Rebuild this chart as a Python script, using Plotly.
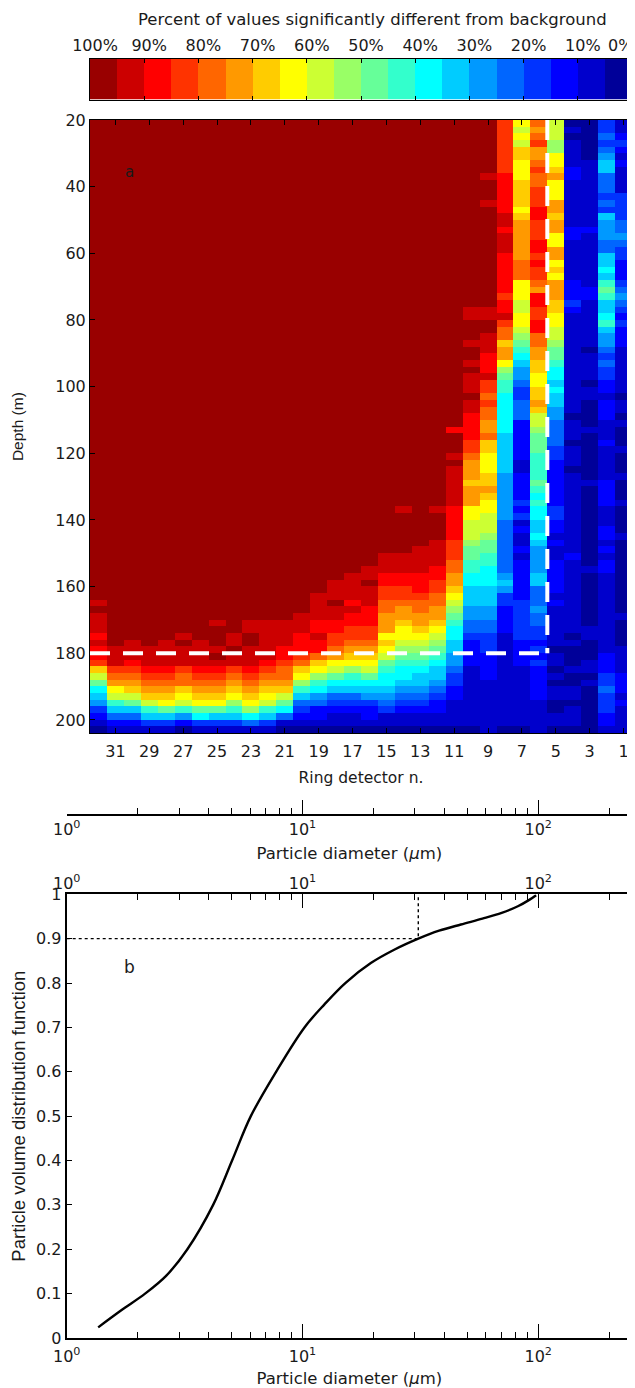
import math
import plotly.graph_objects as go

FONT = "DejaVu Sans, Verdana, sans-serif"
VFONT = "Liberation Sans, Arial, Helvetica, sans-serif"
INK = "#1a1a1a"
# the page keeps an 8 px body margin, so the figure is drawn 8 px in from the window corner
PAGE_OFFSET = 8
W, H = 627, 1380

# ---- colour classes (5 % wide), index 0 = 0-5 % ... index 19 = 95-100 %
jet20 = [
    "rgb(0,0,153)", "rgb(0,0,204)", "rgb(0,0,255)", "rgb(0,51,255)", "rgb(0,102,255)",
    "rgb(0,153,255)", "rgb(0,204,255)", "rgb(0,255,255)", "rgb(51,255,204)", "rgb(102,255,153)",
    "rgb(153,255,102)", "rgb(204,255,51)", "rgb(255,255,0)", "rgb(255,204,0)", "rgb(255,153,0)",
    "rgb(255,102,0)", "rgb(255,51,0)", "rgb(255,0,0)", "rgb(204,0,0)", "rgb(153,0,0)",
]
class_percent = [2.5, 7.5, 12.5, 17.5, 22.5, 27.5, 32.5, 37.5, 42.5, 47.5,
                 52.5, 57.5, 62.5, 67.5, 72.5, 77.5, 82.5, 87.5, 92.5, 97.5]
LEVELS = "0123456789abcdefghij"

percent_ticks = [100, 90, 80, 70, 60, 50, 40, 30, 20, 10, 0]
percent_labels = ["100%", "90%", "80%", "70%", "60%", "50%", "40%", "30%", "20%", "10%", ""]
ring_ticks = [31, 29, 27, 25, 23, 21, 19, 17, 15, 13, 11, 9, 7, 5, 3, 1]
depth_ticks = [20, 40, 60, 80, 100, 120, 140, 160, 180, 200]
diam_ticks = [1, 10, 100]
diam_labels = ["10<sup>0</sup>", "10<sup>1</sup>", "10<sup>2</sup>"]
diam_minor = [2, 3, 4, 5, 6, 7, 8, 9, 20, 30, 40, 50, 60, 70, 80, 90, 200]
cdf_ticks = [0, 0.1, 0.2, 0.3, 0.4, 0.5, 0.6, 0.7, 0.8, 0.9, 1]

# depth bins of 2 m (centres), ring detectors 32 (left) ... 1 (right)
depths = list(range(21, 204, 2))
rings = list(range(32, 0, -1))

# class per depth bin, one string per ring (32 -> 1), groups of 10 bins = 20 m
J = "jjjjjjjjjj "
ring_columns = [
    J * 7 + "jjijiiihih hgdb976532 10",
    J * 7 + "jjjjjjjjji iigfecb864 21",
    J * 7 + "jjjjjjjjii ihgfedb964 21",
    J * 7 + "jjjjjjjjji iihgfedb86 31",
    J * 7 + "jjjjjjjjii iihgfedc96 31",
    J * 7 + "jjjjjjjiji iigffdcb85 20",
    J * 7 + "jjjjjjjjii iihgfedc97 31",
    J * 7 + "jjjjjijjji jihgfedc96 31",
    J * 7 + "jjjjjjjiij iigfedca86 31",
    J * 7 + "jjjjjiijji iihgfedca7 41",
    J * 7 + "jjjjjiiiii ihgfedcb86 31",
    J * 7 + "jjjjjiiiih hgffedb974 10",
    J * 7 + "jjjjiiihhh gfdca86432 10",
    J * 7 + "jiiiihhihh fdca875422 10",
    J * 6 + "jjjjjjjjji iijiihhggf ecb9764321 10",
    J * 6 + "jjjjjjjjii iihihhggfe dca8764321 10",
    J * 6 + "jjjjjjjiij iiihhhggfe dcb9765322 10",
    J * 6 + "jjjjjiiihh ggffeeecdc b987765431 10",
    J * 5 + "jjjjjjjjij jjjjjiiihh ggfeedccba 9877654321 10",
    J * 6 + "jjjjiiiihh hgffeedcba 9876654321 10",
    J * 5 + "jjjjjjjjij jjjiiiihhg gffeedcba9 8766543221 10",
    J * 4 + "jjjjjjhjjj ijiiiiiihh hhhgggffee dcba987766 5543322111 10",
    J * 2 + "jjjjjjjjii jjjijjijii ijiihhhhgg feeedeeecc bbba998877 6665544322 2211111111 10",
    "jjjjjjjjij jjijjjjjjj jjjjjjjjii jjiiihhhig gfgffeefdd cccddedccb bba9988777 6665544333 2222111111 11",
    "gggggggghh hhhhiihiii hhhhhhghhi gffdeeca98 8777777666 6665555555 4444444456 5332222111 1111111111 10",
    "cbcbddcccd dddcdeeeee efffcccbbc cba9876554 3344422222 2112222323 1211212222 2233333322 2211111111 10",
    "fefgeefgff ggghhggghh ghggfehhgg hhffeeddcc ddedbba999 8888987877 6676555566 4445443323 2322222111 11",
    "bbbaaccdec cceedeecce ecdceeeddc cbba998776 7665544443 3222222233 2212112222 2121111110 1101011001 10",
    "0101111221 1111112211 1111222321 1111111111 1111011101 1101111111 1111121111 1111111010 0010011011 10",
    "0000001111 1111112111 1111122111 1111011110 1100001000 0000100000 0000000100 0000001100 0110100000 00",
    "3343456644 4343655544 6676898667 8655434332 2122211121 1111222211 1221212211 1111111111 2223343332 21",
    "1123212111 1333344543 3222345432 3222111111 1011010001 0001000100 0010000000 0000100001 1112221211 11",
]

# cumulative particle volume distribution (panel b)
diameter_um = [1.36, 1.71, 2.15, 2.64, 3.25, 4.18, 5.03, 6.04, 7.73, 10.2, 12.4, 15.2, 19.5,
               24.5, 31.0, 38.0, 47.0, 58.0, 70.0, 82.0, 92.0, 98.0]
volume_cdf = [0.024, 0.063, 0.100, 0.140, 0.200, 0.300, 0.400, 0.500, 0.600, 0.700, 0.752,
              0.800, 0.845, 0.875, 0.900, 0.918, 0.932, 0.945, 0.958, 0.973, 0.988, 0.998]
d90_diameter = 31.0
d90_level = 0.9
limit_depth = 180
limit_ring = 5.5

cols = [c.replace(" ", "") for c in ring_columns]
for c in cols:
    assert len(c) == len(depths), len(c)
z = [[class_percent[LEVELS.index(col[i])] for col in cols] for i in range(len(depths))]

colorscale = []
for k, colr in enumerate(jet20):
    colorscale.append([k / 20, colr])
    colorscale.append([(k + 1) / 20, colr])


def px_x(x):
    # window pixel -> paper fraction
    return (x - PAGE_OFFSET) / W


def px_y(y):
    return 1 - (y - PAGE_OFFSET) / H


LOGMAX = math.log10(250)
tickfont = dict(family=FONT, size=16, color=INK)
titlefont = dict(family=FONT, size=15.5, color=INK)
bigtitle = dict(family=FONT, size=16.5, color=INK)

fig = go.Figure()

# panel a heat map
fig.add_trace(go.Heatmap(x=rings, y=depths, z=z, colorscale=colorscale, zmin=0, zmax=100,
                         showscale=False, xaxis="x", yaxis="y", hoverinfo="skip"))

# colour bar drawn as its own strip
fig.add_trace(go.Heatmap(x=class_percent, y=[0], z=[class_percent], colorscale=colorscale,
                         zmin=0, zmax=100, showscale=False, xaxis="x4", yaxis="y4", hoverinfo="skip"))

# stand-alone diameter axis under panel a
fig.add_trace(go.Scatter(x=[1, 250], y=[0, 0], mode="markers", marker=dict(opacity=0),
                         xaxis="x3", yaxis="y3", hoverinfo="skip", showlegend=False))

# panel b
fig.add_trace(go.Scatter(x=[1, d90_diameter, d90_diameter], y=[d90_level, d90_level, 1],
                         mode="lines", line=dict(color="black", width=1.4, dash="dot"),
                         xaxis="x2", yaxis="y2", showlegend=False, hoverinfo="skip"))
fig.add_trace(go.Scatter(x=diameter_um, y=volume_cdf, mode="lines",
                         line=dict(color="black", width=2.4, shape="spline", smoothing=1.0),
                         xaxis="x2", yaxis="y2", showlegend=False))
fig.add_trace(go.Scatter(x=[1, 250], y=[0, 0], mode="markers", marker=dict(opacity=0),
                         xaxis="x5", yaxis="y2", hoverinfo="skip", showlegend=False))

# white dashed limits
dash = "20px,13px"
fig.add_shape(type="line", xref="x", yref="y", x0=32.5, x1=limit_ring, y0=limit_depth, y1=limit_depth,
              line=dict(color="white", width=4, dash=dash))
fig.add_shape(type="line", xref="x", yref="y", x0=limit_ring, x1=limit_ring, y0=20, y1=limit_depth,
              line=dict(color="white", width=4, dash=dash))

heat_x = [px_x(90), px_x(632)]
diam_x = [px_x(66.7), px_x(632)]

log_minor = dict(tickvals=diam_minor, ticks="inside", ticklen=6, tickcolor="black", tickwidth=1)
common = dict(automargin=False, showgrid=False, zeroline=False, ticklabeloverflow="allow")

fig.update_layout(
    width=W, height=H, margin=dict(l=0, r=0, t=0, b=0, autoexpand=False),
    paper_bgcolor="white", plot_bgcolor="white", showlegend=False,
    font=dict(family=FONT, size=15, color=INK),
    xaxis=dict(domain=heat_x, anchor="y", range=[32.5, 0.5], tickvals=ring_ticks,
               ticks="inside", ticklen=5, tickcolor="black", showline=True, linecolor="black",
               linewidth=1, mirror="ticks", tickfont=tickfont, ticklabelstandoff=3,
               title=dict(text="Ring detector n.", font=titlefont, standoff=12), **common),
    yaxis=dict(domain=[px_y(733.3), px_y(120)], anchor="x", range=[204, 20], tickvals=depth_ticks,
               ticks="inside", ticklen=5, tickcolor="black", showline=True, linecolor="black",
               linewidth=1, mirror="ticks", tickfont=tickfont,
               title=dict(text="Depth (m)", font=dict(family=VFONT, size=15.5, color=INK), standoff=27),
               **common),
    xaxis4=dict(domain=heat_x, anchor="y4", range=[100, 0], side="top", tickvals=percent_ticks,
                ticktext=percent_labels, ticks="inside", ticklen=4, tickcolor="black",
                showline=True, linecolor="black", linewidth=1, mirror="ticks", tickfont=tickfont,
                ticklabelshift=-5, **common),
    yaxis4=dict(domain=[px_y(99.5), px_y(58.5)], anchor="x4", range=[-0.5, 0.5], showticklabels=False,
                ticks="", showline=True, linecolor="black", linewidth=1, mirror=True, **common),
    xaxis3=dict(domain=diam_x, anchor="y3", type="log", range=[0, LOGMAX], tickvals=diam_ticks,
                ticktext=diam_labels, ticks="inside", ticklen=14, tickcolor="black",
                minor=log_minor, showline=True, linecolor="black", linewidth=2, tickfont=tickfont,
                title=dict(text="Particle diameter (<i>μ</i>m)", font=bigtitle, standoff=9), **common),
    yaxis3=dict(domain=[px_y(814), px_y(813)], anchor="x3", visible=False, range=[0, 1]),
    xaxis2=dict(domain=diam_x, anchor="y2", type="log", range=[0, LOGMAX], tickvals=diam_ticks,
                ticktext=diam_labels, ticks="inside", ticklen=14, tickcolor="black",
                minor=log_minor, showline=True, linecolor="black", linewidth=2, mirror=True,
                tickfont=tickfont, ticklabelstandoff=3,
                title=dict(text="Particle diameter (<i>μ</i>m)", font=bigtitle, standoff=7), **common),
    xaxis5=dict(domain=diam_x, anchor="y2", overlaying="x2", side="top", type="log",
                range=[0, LOGMAX], tickvals=diam_ticks, ticktext=diam_labels, ticks="inside",
                ticklen=14, tickcolor="black", minor=log_minor, showline=False, tickfont=tickfont,
                ticklabelstandoff=1, **common),
    yaxis2=dict(domain=[px_y(1338), px_y(894.3)], anchor="x2", range=[0, 1], tickvals=cdf_ticks,
                ticks="inside", ticklen=5, tickcolor="black", showline=True, linecolor="black",
                linewidth=2, mirror="ticks", tickfont=tickfont,
                title=dict(text="Particle volume distribution function",
                           font=dict(family=VFONT, size=18.5, color=INK), standoff=9), **common),
    annotations=[
        dict(text="Percent of values significantly different from background", x=px_x(372),
             y=px_y(20), xref="paper", yref="paper", showarrow=False, xanchor="center",
             yanchor="middle", font=bigtitle),
        dict(text="0%", x=px_x(620), y=px_y(45), xref="paper", yref="paper", showarrow=False,
             xanchor="center", yanchor="middle", font=tickfont),
        dict(text="a", x=px_x(129), y=px_y(172), xref="paper", yref="paper", showarrow=False,
             xanchor="center", yanchor="middle", font=dict(family=FONT, size=15, color=INK)),
        dict(text="b", x=px_x(129), y=px_y(967), xref="paper", yref="paper", showarrow=False,
             xanchor="center", yanchor="middle", font=dict(family=FONT, size=17, color=INK)),
    ],
)

fig.write_html("out.html")
